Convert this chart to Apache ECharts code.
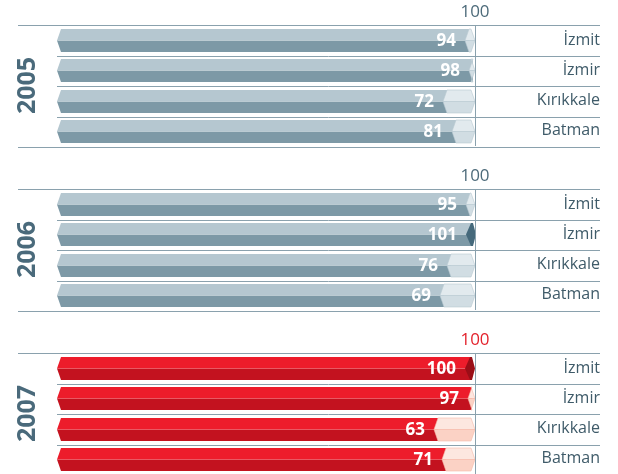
<!DOCTYPE html>
<html>
<head>
<meta charset="utf-8">
<script src="https://cdn.jsdelivr.net/npm/echarts@6/dist/echarts.min.js"></script>
<style>
  html, body { margin: 0; padding: 0; background: #ffffff; }
  #main { width: 618px; height: 474px; }
</style>
</head>
<body>
<div id="main"></div>
<script>
// data
var cities = ['İzmit', 'İzmir', 'Kırıkkale', 'Batman'];
var years = ['2005', '2006', '2007'];
var values2005 = [94, 98, 72, 81];
var values2006 = [95, 101, 76, 69];
var values2007 = [100, 97, 63, 71];
var refValue = 100;

var chart = echarts.init(document.getElementById('main'));

var grey = {
  top: '#b5c7d0', bottom: '#7d99a6', mid: '#c6d4db',
  ghostTop: '#e2eaee', ghostBottom: '#d1dde3', ghostEdge: '#b9cad2',
  cap: '#45697b', ref: '#4d6b7a'
};
var red = {
  top: '#ed1c2b', bottom: '#c3121f', mid: '#f2606a',
  ghostTop: '#fde7e0', ghostBottom: '#fbd2c5', ghostEdge: '#f6b9a8',
  cap: '#9a0e17', ref: '#e3222c'
};
var lineColor = '#8aa1ad';

function makeRender(pal) {
  return function (params, api) {
    var cat = api.value(0), v = api.value(1);
    var cs = params.coordSys;
    var band = api.size([0, 1])[1];
    var p = api.coord([v, cat]);
    var xv = p[0], yc = Math.round(p[1]) + 0.5;
    var x100 = api.coord([refValue, cat])[0];
    var x0 = cs.x + 39;
    var d = 4;
    var y0 = yc - 11.5, y1 = yc + 11.5;
    var kids = [];
    var barEnd, capStart;

    if (v >= refValue) {
      capStart = xv - 10;
      barEnd = xv - 5;
    } else {
      capStart = xv - d;
      barEnd = xv;
    }
    // bar body: light top face, dark front face
    kids.push({ type: 'polygon', shape: { points: [[x0, yc], [x0 + d, y0], [barEnd, y0], [barEnd, yc]] },
      style: { fill: pal.top } });
    kids.push({ type: 'polygon', shape: { points: [[x0, yc], [barEnd, yc], [barEnd, y1], [x0 + d, y1]] },
      style: { fill: pal.bottom } });
    kids.push({ type: 'line', shape: { x1: x0 + 1, y1: yc, x2: barEnd, y2: yc },
      style: { stroke: pal.mid, lineWidth: 1, opacity: 0.6 } });

    if (v >= refValue) {
      kids.push({ type: 'polygon', shape: { points: [[capStart, yc], [capStart + 5, y0], [xv - 3, y0], [xv, yc], [xv - 3, y1], [capStart + 5, y1]] },
        style: { fill: pal.cap } });
    } else {
      var gr = x100;
      kids.push({ type: 'polygon', shape: { points: [[capStart, yc], [capStart + d, y0], [gr - d, y0], [gr, yc]] },
        style: { fill: pal.ghostTop, stroke: pal.ghostEdge, lineWidth: 0.6 } });
      kids.push({ type: 'polygon', shape: { points: [[capStart, yc], [gr, yc], [gr - d, y1], [capStart + d, y1]] },
        style: { fill: pal.ghostBottom, stroke: pal.ghostEdge, lineWidth: 0.6 } });
    }

    kids.push({ type: 'text', style: {
      text: String(v), x: capStart - 9, y: yc + 1,
      align: 'right', verticalAlign: 'middle',
      fill: '#ffffff', font: 'bold 17px "Open Sans"'
    } });

    // separators
    var yb = Math.round(yc + band / 2) + 0.5;
    var last = cat === cities.length - 1;
    kids.push({ type: 'line', shape: { x1: last ? cs.x : x0, y1: yb, x2: cs.x + cs.width, y2: yb },
      style: { stroke: lineColor, lineWidth: 1 } });
    if (cat === 0) {
      var yt = Math.round(yc - band / 2) + 0.5;
      kids.push({ type: 'line', shape: { x1: cs.x, y1: yt, x2: cs.x + cs.width, y2: yt },
        style: { stroke: lineColor, lineWidth: 1 } });
    }
    return { type: 'group', children: kids };
  };
}

var groups = [
  { year: years[0], values: values2005, pal: grey, top: 25 },
  { year: years[1], values: values2006, pal: grey, top: 189 },
  { year: years[2], values: values2007, pal: red, top: 353 }
];

var grids = [], xAxes = [], yAxes = [], series = [];
groups.forEach(function (g, gi) {
  grids.push({ left: 18, right: 18, top: g.top, height: 121 });
  xAxes.push({
    type: 'value', gridIndex: gi, min: -357, max: 225, position: 'top',
    axisLine: { show: false }, axisTick: { show: false }, splitLine: { show: false },
    axisLabel: {
      customValues: [refValue], margin: 4,
      formatter: function (val) { return '{r|' + val + '}'; },
      rich: { r: { color: g.pal.ref, fontSize: 17, fontFamily: 'Open Sans' } }
    }
  });
  yAxes.push({
    type: 'category', gridIndex: gi, data: cities, inverse: true, position: 'right',
    axisLine: { show: false }, axisTick: { show: false }, splitLine: { show: false },
    axisLabel: { align: 'right', margin: 0, color: '#3f5b69', fontSize: 16, fontFamily: 'Open Sans' }
  });
  yAxes.push({
    type: 'category', gridIndex: gi, data: cities, inverse: true, position: 'left',
    axisLine: { show: false }, axisTick: { show: false }, axisLabel: { show: false }, splitLine: { show: false },
    name: g.year, nameLocation: 'middle', nameRotate: 90, nameGap: -22,
    nameTextStyle: { color: '#4a6a7b', fontSize: 25, fontWeight: 'bold', fontFamily: 'Open Sans' }
  });
  series.push({
    type: 'custom',
    xAxisIndex: gi,
    yAxisIndex: gi * 2,
    data: g.values.map(function (v, i) { return [i, v]; }),
    encode: { x: 1, y: 0 },
    renderItem: makeRender(g.pal),
    markLine: {
      silent: true, symbol: 'none', animation: false,
      lineStyle: { color: lineColor, type: 'solid', width: 1 },
      label: { show: false },
      data: [{ xAxis: refValue }]
    }
  });
});

var option = {
  backgroundColor: '#ffffff',
  animation: false,
  grid: grids,
  xAxis: xAxes,
  yAxis: yAxes,
  series: series
};

chart.setOption(option);
</script>
</body>
</html>
